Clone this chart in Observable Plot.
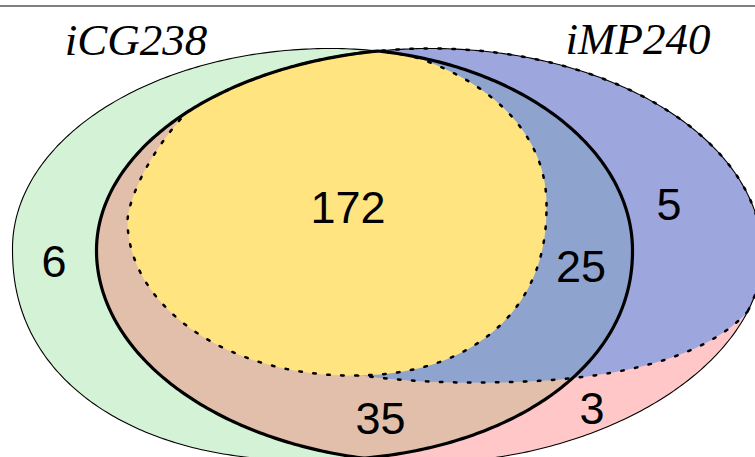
<!DOCTYPE html>
<html><head><meta charset="utf-8">
<script src="https://cdn.jsdelivr.net/npm/d3@7"></script>
<script src="https://cdn.jsdelivr.net/npm/@observablehq/plot@0.6"></script>
<style>html,body{margin:0;padding:0;background:#fff;overflow:hidden} svg{display:block}</style>
</head><body><div id="chart"></div>
<script>
// ---- data: region counts and set names ----
const regionLabels = ["6", "172", "5", "25", "35", "3"];
const regionX = [53.5, 347.5, 668.5, 580.5, 380, 591.5];
const regionY = [276, 222, 219, 281, 433, 423];
const setNames = ["iCG238", "iMP240"];
const setX = [135.5, 637.5];
const setY = [54, 53];
const topRule = [5.5];

// ---- shape geometry (extreme points and quadrant exponents [TR, TL, BL, BR]) ----
const shapeIds    = ["G", "P", "D", "Y"];
const shapeLeft   = [[12, 248], [96, 250], [200, 300], [127, 220]];
const shapeTop    = [[330, 48], [430, 48], [480, -10], [300, 40]];
const shapeRight  = [[632, 250], [762, 255], [770, 245], [546, 205]];
const shapeBottom = [[310, 460], [430, 462], [470, 382], [350, 375]];
const shapeExp    = [[2, 2, 2.2, 2.1], [2, 2, 2, 1.9], [2, 2, 2, 2.4], [2.1, 1.5, 2, 2.25]];

const colors = {green: "#d4f2d5", pink: "#ffc7c7", tan: "#e2bfaa", blue: "#9da7de", bluegray: "#8fa3cf", yellow: "#ffe47f"};

function egg(L, T, R, B, n, steps = 120) {
  const pts = [];
  const quad = (cx, cy, sx, sy, rx, ry, e, rev) => {
    for (let i = 0; i < steps; i++) {
      const t = (rev ? steps - i : i) / steps * Math.PI / 2;
      const c = Math.max(Math.cos(t), 0), s = Math.max(Math.sin(t), 0);
      pts.push([cx + sx * rx * Math.pow(c, 2 / e), cy + sy * ry * Math.pow(s, 2 / e)]);
    }
  };
  quad(T[0], R[1], 1, -1, R[0] - T[0], R[1] - T[1], n[0], false);
  quad(T[0], L[1], -1, -1, T[0] - L[0], L[1] - T[1], n[1], true);
  quad(B[0], L[1], -1, 1, B[0] - L[0], B[1] - L[1], n[2], false);
  quad(B[0], R[1], 1, 1, R[0] - B[0], B[1] - R[1], n[3], true);
  return pts;
}
function area(p) { let a = 0; for (let i = 0; i < p.length; i++) { const q = p[i], r = p[(i + 1) % p.length]; a += q[0] * r[1] - r[0] * q[1]; } return a / 2; }
function clip(subject, clipPoly) {
  const sgn = area(clipPoly) > 0 ? 1 : -1;
  let out = subject;
  for (let i = 0; i < clipPoly.length && out.length; i++) {
    const a = clipPoly[i], b = clipPoly[(i + 1) % clipPoly.length];
    const inside = p => sgn * ((b[0] - a[0]) * (p[1] - a[1]) - (b[1] - a[1]) * (p[0] - a[0])) >= 0;
    const inter = (p, q) => {
      const dx1 = q[0] - p[0], dy1 = q[1] - p[1], dx2 = b[0] - a[0], dy2 = b[1] - a[1];
      const den = dx1 * dy2 - dy1 * dx2;
      const t = ((a[0] - p[0]) * dy2 - (a[1] - p[1]) * dx2) / den;
      return [p[0] + t * dx1, p[1] + t * dy1];
    };
    const input = out; out = [];
    for (let j = 0; j < input.length; j++) {
      const cur = input[j], prev = input[(j + input.length - 1) % input.length];
      const ci = inside(cur), pi = inside(prev);
      if (ci) { if (!pi) out.push(inter(prev, cur)); out.push(cur); }
      else if (pi) out.push(inter(prev, cur));
    }
  }
  return out;
}

const shapes = {};
shapeIds.forEach((id, i) => shapes[id] = egg(shapeLeft[i], shapeTop[i], shapeRight[i], shapeBottom[i], shapeExp[i]));
const G = shapes.G, P = shapes.P;
const GP = clip(G, P);
const BP = clip(shapes.D, P);
const BPG = clip(BP, G);
const YGP = clip(clip(shapes.Y, G), P);

const poly = (pts, o) => Plot.line(pts, {x: d => d[0], y: d => d[1], curve: "linear-closed", ...o});
const dotted = {fill: "none", stroke: "black", strokeWidth: 2.5, strokeDasharray: "2.5,11.5"};

const chart = Plot.plot({
  width: 755, height: 457, margin: 0,
  x: {domain: [0, 755], range: [0, 755], axis: null},
  y: {domain: [0, 457], range: [0, 457], axis: null},
  style: {background: "white"},
  marks: [
    poly(G, {fill: colors.green, stroke: "none"}),
    poly(P, {fill: colors.pink, stroke: "none"}),
    poly(GP, {fill: colors.tan, stroke: "none"}),
    poly(BP, {fill: colors.blue, stroke: "none"}),
    poly(BPG, {fill: colors.bluegray, stroke: "none"}),
    poly(BP, dotted),
    poly(YGP, {fill: colors.yellow, stroke: "none"}),
    poly(YGP, dotted),
    poly(G, {fill: "none", stroke: "black", strokeWidth: 1.1}),
    poly(P, {fill: "none", stroke: "black", strokeWidth: 1.1}),
    poly(GP, {fill: "none", stroke: "black", strokeWidth: 3.2}),
    Plot.ruleY(topRule, {stroke: "#555", strokeWidth: 1.4}),
    Plot.text(regionLabels.map((t, i) => ({t, x: regionX[i], y: regionY[i]})),
      {x: "x", y: "y", text: "t", fontSize: 45, fontFamily: "Liberation Sans, Arial, sans-serif", lineAnchor: "bottom", textAnchor: "middle", fill: "black"}),
    Plot.text(setNames.map((t, i) => ({t, x: setX[i], y: setY[i]})),
      {x: "x", y: "y", text: "t", fontSize: 45, fontFamily: "Liberation Serif, Times New Roman, serif", fontStyle: "italic", lineAnchor: "bottom", textAnchor: "middle", fill: "black"})
  ]
});
document.getElementById("chart").appendChild(chart);
</script>
</body></html>
